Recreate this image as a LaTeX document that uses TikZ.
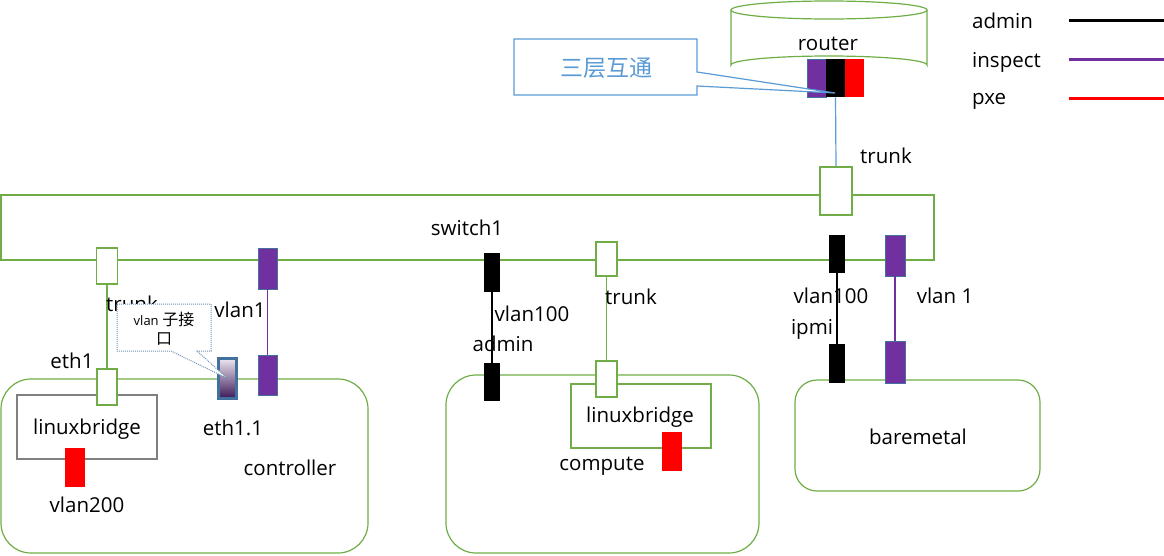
\documentclass[tikz,border=0pt]{standalone}
\usepackage{fontspec}
\setmainfont{Open Sans}
\newfontfamily\cjk{Noto Sans CJK SC}
\definecolor{og}{HTML}{70AD47}
\definecolor{pu}{HTML}{7030A0}
\definecolor{bl}{HTML}{5B9BD5}
\definecolor{sb}{HTML}{41719C}
\definecolor{gy}{HTML}{808080}
\definecolor{dotc}{HTML}{7394B8}
\definecolor{gtop}{HTML}{EDE6F0}
\definecolor{gbot}{HTML}{3C1758}
\begin{document}
\begin{tikzpicture}[x=1pt,y=-1pt,
  lbl/.style={inner sep=0pt,font=\fontsize{20.5}{24}\selectfont},
  port/.style={rectangle,inner sep=0pt,line width=0.8pt},
  pport/.style={port,fill=pu,draw=sb},
  bport/.style={port,fill=black},
  rport/.style={port,fill=red},
  tbox/.style={port,draw=og,fill=white,line width=1.2pt},
  host/.style={draw=og,line width=1.2pt,rounded corners=30pt},
  wire/.style={line width=1.2pt}]
\useasboundingbox (0,0) rectangle (1164,555);

% router cylinder
\draw[og,line width=1.2pt] (829,10) ellipse [x radius=98,y radius=9];
\draw[og,line width=1.2pt] (731,10) -- (731,65) arc[start angle=180,end angle=360,x radius=98,y radius=9] -- (927,10);
\node[lbl] (router) at (828,44) {router};

% switch and hosts
\draw[og,line width=1.2pt] (1,195) rectangle (934,260);
\node[lbl] (switch1) at (467,228) {switch1};
\draw[host] (1,379) rectangle (368,553);
\draw[gy,line width=1.2pt] (17,395) rectangle (157,459);
\draw[host] (446,375) rectangle (759,553);
\draw[og,line width=1.2pt] (571,384) rectangle (711,448);
\draw[host,rounded corners=22pt] (795,380) rectangle (1040,491);

% router ports
\node[pport,minimum width=19,minimum height=38] (rp) at (817,78) {};
\node[bport,minimum width=19,minimum height=38] (rb) at (835.5,78) {};
\node[rport,minimum width=19,minimum height=38] (rr) at (854.5,78) {};
\node[tbox,minimum width=32,minimum height=48] (rt) at (836,191) {};
\draw[bl,wire] (rb.south) -- (rt.north);
\node[lbl] at (886,156) {trunk};

% switch ports
\node[tbox,minimum width=21,minimum height=36] (st1) at (107,266) {};
\node[pport,minimum width=19,minimum height=41] (sp1) at (267.5,268.5) {};
\node[bport,minimum width=16,minimum height=39] (sb1) at (492,272.5) {};
\node[tbox,minimum width=21,minimum height=34] (st2) at (606.5,259) {};
\node[bport,minimum width=16,minimum height=38] (sb2) at (837,254) {};
\node[pport,minimum width=20,minimum height=41] (sp2) at (895,255.5) {};

% controller
\node[tbox,minimum width=20,minimum height=36] (eth1) at (107,387) {};
\draw[og,line width=2.2pt] (st1.south) -- (eth1.north);
\node[pport,minimum width=19,minimum height=40] (cp) at (267.5,375) {};
\draw[pu,wire] (sp1.south) -- (cp.north);
\node[port,draw=sb,line width=3pt,top color=gtop,bottom color=gbot,minimum width=18,minimum height=40] (eth11) at (227.5,378.5) {};
\node[rport,minimum width=20,minimum height=39] (v200) at (75,467.5) {};
\node[lbl] at (87,429) {linuxbridge};
\node[lbl] at (87,505) {vlan200};
\node[lbl] at (72,361) {eth1};
\node[lbl] at (132,304) {trunk};
\node[lbl] at (240,310) {vlan1};
\node[lbl] at (233,428) {eth1.1};
\node[lbl] at (290,468) {controller};

% vlan sub-interface callout
\draw[dotc,densely dotted,line width=1pt,fill=white] (117,304) -- (211,304) -- (211,351) -- (197,351) -- (eth11.center) -- (171,351) -- (117,351) -- cycle;
\node[inner sep=0pt,align=center,font=\fontsize{16}{19}\selectfont\cjk] (sub) at (164,329) {{\fontsize{13}{15}\selectfont\rmfamily vlan} 子接\\口};

% compute
\node[tbox,minimum width=21,minimum height=36] (ct) at (606.5,379) {};
\draw[og,wire] (st2.south) -- (ct.north);
\node[bport,minimum width=16,minimum height=38] (cb) at (492,382) {};
\draw[black,wire] (sb1.south) -- (cb.north);
\node[rport,minimum width=20,minimum height=39] (cr) at (672,451.5) {};
\node[lbl] at (640,417) {linuxbridge};
\node[lbl] at (602,466) {compute};
\node[lbl] at (631,297) {trunk};
\node[lbl] at (532,314) {vlan100};
\node[lbl] at (503,344) {admin};

% baremetal
\node[bport,minimum width=16,minimum height=39] (bb) at (837,363.5) {};
\node[pport,minimum width=20,minimum height=42] (bp) at (895,362) {};
\draw[black,wire] (sb2.south) -- (bb.north);
\draw[pu,wire] (sp2.south) -- (bp.north);
\node[lbl] at (831,296) {vlan100};
\node[lbl] at (812,329) {ipmi};
\node[lbl] at (945,296) {vlan 1};
\node[lbl] at (918,437) {baremetal};

% router callout
\draw[bl,line width=1.2pt,fill=white] (514,39) -- (697,39) -- (697,72) -- (835,93) -- (697,86) -- (697,95) -- (514,95) -- cycle;
\node[inner sep=0pt,text=bl,font=\fontsize{23}{26}\selectfont\cjk] (l3) at (606,68) {三层互通};

% legend
\node[lbl,anchor=base west] (la) at (972,28) {admin};
\node[lbl,anchor=base west] (li) at (972,67) {inspect};
\node[lbl,anchor=base west] (lp) at (972,104) {pxe};
\coordinate (a1) at (1069,20); \coordinate (a2) at (1164,20);
\coordinate (i1) at (1069,59); \coordinate (i2) at (1164,59);
\coordinate (p1) at (1069,98); \coordinate (p2) at (1164,98);
\draw[black,line width=3pt] (a1) -- (a2);
\draw[pu,line width=3pt] (i1) -- (i2);
\draw[red,line width=3pt] (p1) -- (p2);
\end{tikzpicture}
\end{document}
